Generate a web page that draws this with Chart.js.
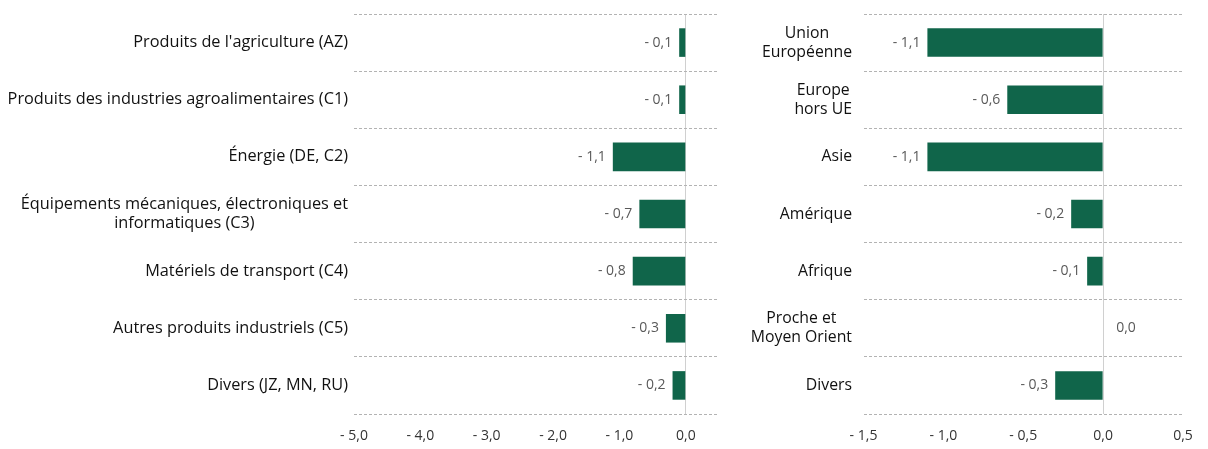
<!DOCTYPE html>
<html>
<head>
<meta charset="utf-8">
<script src="https://cdn.jsdelivr.net/npm/chart.js@4.4.1/dist/chart.umd.min.js"></script>
<style>
  html, body { margin: 0; padding: 0; background: #fff; }
  #wrap { position: relative; width: 1208px; height: 449px; }
  #c1 { position: absolute; left: 0; top: 0; }
  #c2 { position: absolute; left: 740px; top: 0; }
</style>
</head>
<body>
<div id="wrap">
  <canvas id="c1" width="740" height="449"></canvas>
  <canvas id="c2" width="468" height="449"></canvas>
</div>
<script>
// produits
const produits = [
  "Produits de l'agriculture (AZ)",
  "Produits des industries agroalimentaires (C1)",
  "Énergie (DE, C2)",
  ["Équipements mécaniques, électroniques et", "informatiques (C3)"],
  "Matériels de transport (C4)",
  "Autres produits industriels (C5)",
  "Divers (JZ, MN, RU)"
];
const valeursProduits = [-0.1, -0.1, -1.1, -0.7, -0.8, -0.3, -0.2];
const ticksProduits = [-5, -4, -3, -2, -1, 0];

// zones
const zones = [
  ["Union", "Européenne"],
  ["Europe", "hors UE"],
  "Asie",
  "Amérique",
  "Afrique",
  ["Proche et", "Moyen Orient"],
  "Divers"
];
const valeursZones = [-1.1, -0.6, -1.1, -0.2, -0.1, 0.0, -0.3];
const ticksZones = [-1.5, -1, -0.5, 0, 0.5];

const FONT = "'Open Sans', 'DejaVu Sans', sans-serif";
const VERT = "#10654a";

function fmt(v, d) {
  const s = Math.abs(v).toFixed(d).replace(".", ",");
  return v < -1e-9 ? "- " + s : s;
}

// étiquettes de catégories (bloc aligné à droite, lignes centrées)
const catLabels = {
  id: "catLabels",
  afterDraw(chart, args, opts) {
    const ctx = chart.ctx;
    const y = chart.scales.y;
    const area = chart.chartArea;
    ctx.save();
    ctx.font = opts.size + "px " + FONT;
    ctx.fillStyle = "#111111";
    ctx.textBaseline = "middle";
    ctx.textAlign = "center";
    chart.data.labels.forEach((lab, i) => {
      const lines = Array.isArray(lab) ? lab : [lab];
      const w = Math.max(...lines.map(l => ctx.measureText(l).width));
      const cx = area.left - opts.pad - w / 2;
      const cy = y.getPixelForValue(i);
      const lh = 19;
      lines.forEach((l, k) => {
        ctx.fillText(l, cx, cy + (k - (lines.length - 1) / 2) * lh);
      });
    });
    ctx.restore();
  }
};

// valeurs des barres
const valLabels = {
  id: "valLabels",
  afterDatasetsDraw(chart) {
    const ctx = chart.ctx;
    const meta = chart.getDatasetMeta(0);
    const data = chart.data.datasets[0].data;
    ctx.save();
    ctx.font = "14px " + FONT;
    ctx.fillStyle = "#595959";
    ctx.textBaseline = "middle";
    meta.data.forEach((bar, i) => {
      const v = data[i];
      if (v < 0) {
        ctx.textAlign = "right";
        ctx.fillText(fmt(v, 1), bar.x - 7, bar.y);
      } else {
        ctx.textAlign = "left";
        ctx.fillText(fmt(v, 1), bar.x + 13, bar.y);
      }
    });
    ctx.restore();
  }
};

function makeChart(id, labels, values, tickVals, max, yWidth, padRight, labPad, labSize) {
  return new Chart(document.getElementById(id), {
    type: "bar",
    data: {
      labels: labels,
      datasets: [{
        data: values,
        backgroundColor: VERT,
        borderWidth: 0,
        barPercentage: 0.5,
        categoryPercentage: 1
      }]
    },
    options: {
      indexAxis: "y",
      responsive: false,
      animation: false,
      layout: { padding: { top: 14, right: padRight, left: 0, bottom: 0 } },
      plugins: {
        legend: { display: false },
        tooltip: { enabled: false },
        catLabels: { pad: labPad, size: labSize }
      },
      scales: {
        x: {
          min: tickVals[0],
          max: max,
          border: { display: false },
          grid: {
            drawTicks: false,
            color: c => Math.abs(c.tick.value) < 1e-9 ? "#d0d0d0" : "rgba(0,0,0,0)",
            lineWidth: 1
          },
          ticks: {
            padding: 14,
            color: "#333333",
            autoSkip: false,
            maxRotation: 0,
            font: { family: FONT, size: 14 },
            callback: v => fmt(v, 1)
          },
          afterBuildTicks: s => { s.ticks = tickVals.map(v => ({ value: v })); },
          afterFit: s => { s.height = 35; }
        },
        y: {
          border: { display: false, dash: [3, 2] },
          grid: {
            offset: true,
            drawTicks: false,
            color: "#b3b3b3",
            lineWidth: 1
          },
          ticks: { display: false },
          afterFit: s => { s.width = yWidth; }
        }
      }
    },
    plugins: [catLabels, valLabels]
  });
}

makeChart("c1", produits, valeursProduits, ticksProduits, 0.5, 354, 21, 6, 16.3);
makeChart("c2", zones, valeursZones, ticksZones, 0.5, 123.5, 25, 11.5, 15.8);
</script>
</body>
</html>
